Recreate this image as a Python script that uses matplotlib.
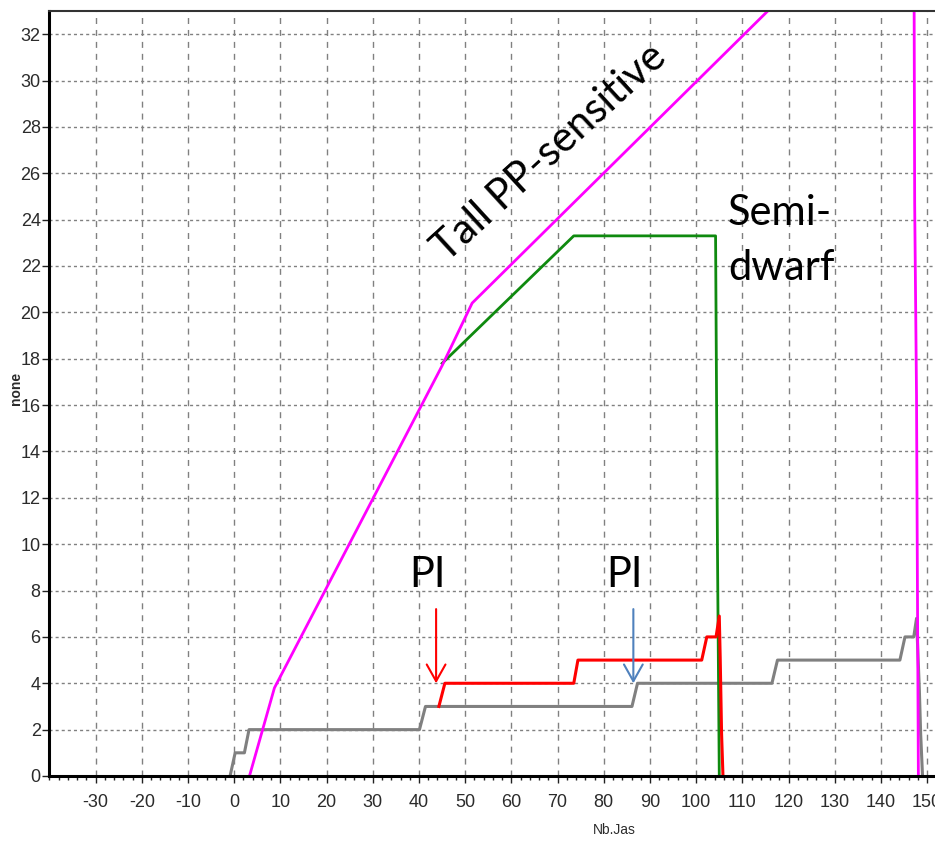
import matplotlib
matplotlib.use("Agg")
import matplotlib.pyplot as plt
from matplotlib import font_manager
from matplotlib.ticker import MultipleLocator

plt.rcParams['axes.unicode_minus'] = False

# ---- data ----
tall_x = [3.3, 8.7, 45.0, 51.5, 115.5, 147.1, 147.3, 147.7, 147.9, 148.1]
tall_y = [0.0, 3.8, 17.7, 20.4, 33.0, 39.2, 24.7, 16.4, 8.0, 0.0]

semi_x = [45.0, 73.5, 104.2, 104.6, 105.0]
semi_y = [17.8, 23.3, 23.3, 10.0, 0.0]

red_x = [44.3, 45.6, 73.5, 74.4, 101.2, 102.3, 104.3, 105.0, 105.2, 105.5, 105.8]
red_y = [3.0, 4.0, 4.0, 5.0, 5.0, 6.0, 6.0, 6.9, 5.1, 1.8, 0.0]

gray_x = [-0.9, 0.2, 2.2, 3.2, 40.1, 41.4, 86.1, 87.3, 116.4, 117.6,
          144.1, 145.2, 147.1, 147.7, 148.3, 148.6, 149.0]
gray_y = [0, 1, 1, 2, 2, 3, 3, 4, 4, 5, 5, 6, 6, 6.8, 3.8, 1.8, 0]

pi_red_x, pi_blue_x = 43.7, 86.4
arrow_top, arrow_tip = 7.2, 4.0

x_ticks = list(range(-30, 151, 10))
y_ticks = list(range(0, 33, 2))

# ---- fonts ----
names = {f.name for f in font_manager.fontManager.ttflist}
narrow = 'Liberation Sans Narrow' if 'Liberation Sans Narrow' in names else 'Liberation Sans'
anno_font = ['Lato', 'DejaVu Sans']

fig = plt.figure(figsize=(9.35, 8.41), dpi=100)
fig.patch.set_facecolor('white')
ax = fig.add_axes([49/935, 65/841, 1 - 49/935, 765/841])

ax.set_xlim(-40.1, 151.7)
ax.set_ylim(0, 33)

# grid
for xv in x_ticks:
    ax.axvline(xv, color='#808080', lw=1.0, ls=(0, (4.3, 4.3)), zorder=1)
for yv in y_ticks[1:]:
    ax.axhline(yv, color='#808080', lw=1.0, ls=(0, (2.2, 2.2)), zorder=1)

ax.plot(gray_x, gray_y, color='#808080', lw=2.2, zorder=3)
ax.plot(semi_x, semi_y, color='#0f8a0f', lw=2.0, zorder=4)
ax.plot(red_x, red_y, color='#ff0000', lw=2.2, zorder=5)
ax.plot(tall_x, tall_y, color='#ff00ff', lw=2.0, zorder=6)

# arrows
for xa, col in [(pi_red_x, '#ff0000'), (pi_blue_x, '#4f81bd')]:
    ax.annotate('', xy=(xa, arrow_tip), xytext=(xa, arrow_top),
                arrowprops=dict(arrowstyle='->,head_length=0.8,head_width=0.45',
                                color=col, lw=1.5, shrinkA=0, shrinkB=0,
                                mutation_scale=15), zorder=7)

# annotations
ax.text(68.2, 26.9, 'Tall PP-sensitive', rotation=42.5, rotation_mode='anchor',
        ha='center', va='center', fontsize=30, family=anno_font, color='black', zorder=8)
ax.text(106.9, 23.77, 'Semi-', ha='left', va='baseline', fontsize=30,
        family=anno_font, color='black', zorder=8)
ax.text(106.9, 21.4, 'dwarf', ha='left', va='baseline', fontsize=30,
        family=anno_font, color='black', zorder=8)
ax.text(41.8, 8.15, 'PI', ha='center', va='baseline', fontsize=30,
        family=anno_font, color='black', zorder=8)
ax.text(84.4, 8.15, 'PI', ha='center', va='baseline', fontsize=30,
        family=anno_font, color='black', zorder=8)

# axes styling
ax.spines['right'].set_visible(False)
ax.spines['left'].set_linewidth(2.2)
ax.spines['bottom'].set_linewidth(2.2)
ax.spines['top'].set_linewidth(1.5)
ax.spines['top'].set_color('#333333')
for s in ['left', 'bottom', 'top']:
    ax.spines[s].set_zorder(9)

ax.set_xticks(x_ticks)
ax.set_yticks(y_ticks)
ax.xaxis.set_minor_locator(MultipleLocator(2))
ax.tick_params(axis='both', which='major', direction='out', length=5, width=1,
               color='#222222', labelsize=13, labelcolor='#2b2b2b')
ax.tick_params(axis='x', which='major', pad=8)
ax.tick_params(axis='y', which='major', pad=1)
ax.tick_params(axis='x', which='minor', direction='out', length=3, width=1, color='#222222')
for lab in ax.get_xticklabels() + ax.get_yticklabels():
    lab.set_family(narrow)

fig.text(614/935, 1 - 830/841, 'Nb.Jas', ha='center', va='center', fontsize=10,
         family=narrow, color='#2b2b2b')
fig.text(16/935, 1 - 388/841, 'none', ha='center', va='center', fontsize=10,
         rotation=90, fontweight='bold', family='Liberation Sans', color='#2b2b2b')

fig.savefig('out.png', dpi=100, facecolor='white')
